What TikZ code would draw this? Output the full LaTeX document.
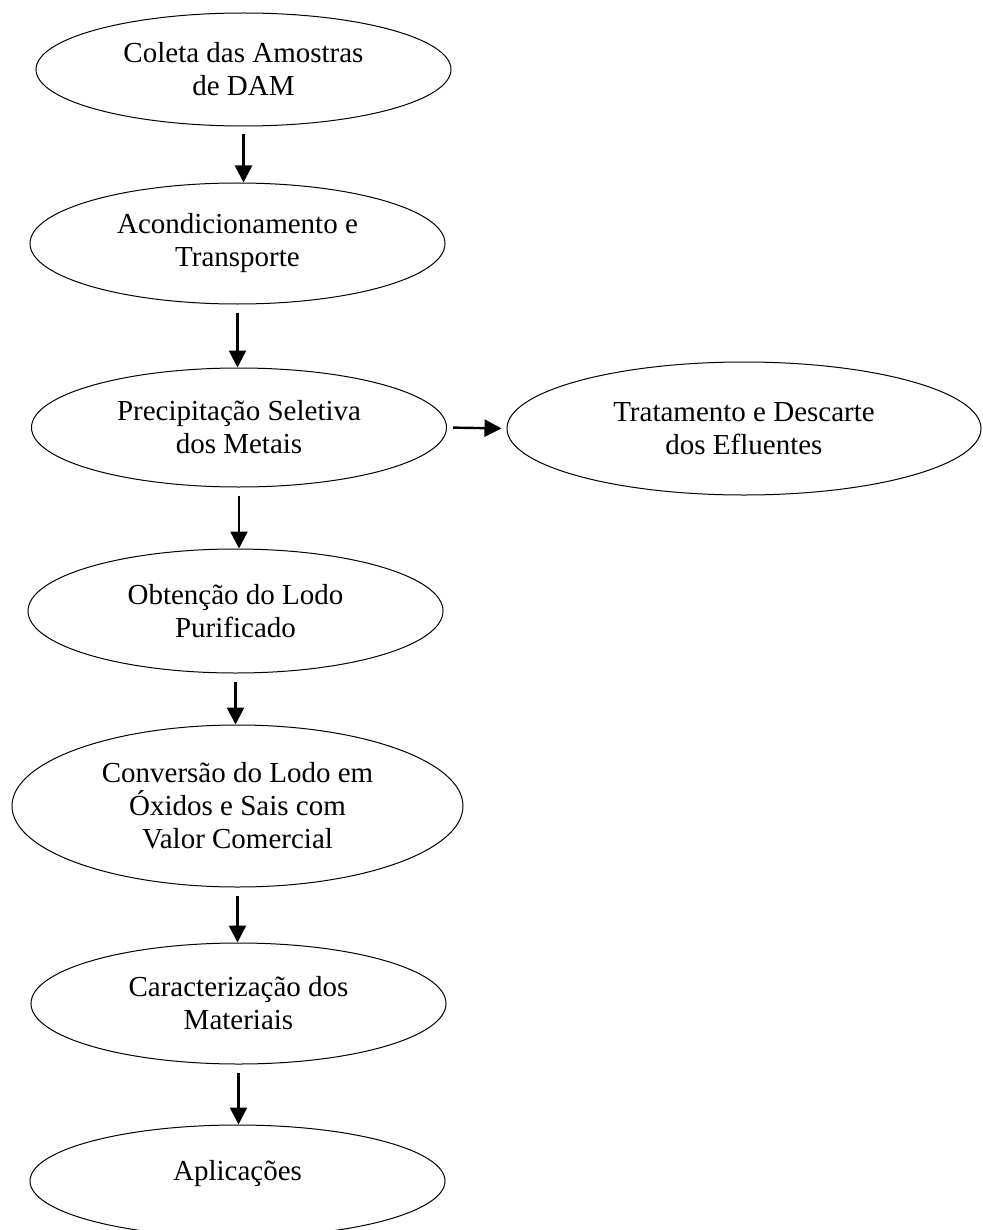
\documentclass[tikz,border=0pt]{standalone}
\usepackage{fontspec}
\setmainfont{Liberation Serif}
\usepackage{tikz}
\usetikzlibrary{shapes.geometric}
\usetikzlibrary{arrows.meta}

\tikzset{
  etapa/.style={draw,
    ellipse,
    line width=0.5pt,
    inner sep=0pt,
    align=center,
    font=\fontsize{14.5}{16.5}\selectfont,
    minimum width=207.5pt},
  seta/.style={line width=1.2pt,
    -{Triangle[length=8.5pt,width=8.5pt]},
    shorten <=4pt}
}

\begin{document}
\begin{tikzpicture}[x=0.5pt,y=-0.5pt]
      \path[use as bounding box, clip] (0,0) rectangle (982,1230);
      \node[etapa, minimum height=56.5pt] (coleta) at (243.5,69.5)
        {Coleta das Amostras\\de DAM};
      \node[etapa, minimum height=60.5pt] (acond) at (237.5,243.5)
        {Acondicionamento e\\Transporte};
      \node[etapa, minimum height=59.5pt] (precip) at (239,427.5)
        {Precipitação Seletiva\\dos Metais};
      \node[etapa,
        minimum width=237pt,
        minimum height=66.5pt] (descarte) at (744,428.5)
        {Tratamento e Descarte\\dos Efluentes};
      \node[etapa, minimum height=62pt] (lodo) at (235.5,611)
        {Obtenção do Lodo\\Purificado};
      \node[etapa,
        minimum width=225.5pt,
        minimum height=81pt] (conv) at (237.5,806)
        {Conversão do Lodo em\\Óxidos e Sais com\\Valor Comercial};
      \node[etapa, minimum height=60.5pt] (carac) at (238.5,1003.5)
        {Caracterização dos\\Materiais};
      \node[etapa, minimum height=56pt] (aplic) at (237.5,1181)
        {Aplicações\\[-6pt]};
      % setas
      \foreach \a/\b in {coleta/acond,acond/precip,precip/lodo,lodo/conv,conv/carac,carac/aplic}
        \draw[seta] (\a.south) -- (\a.south |- \b.north);
      \draw[seta, shorten <=3pt, shorten >=2.5pt] (precip.east) -- (descarte.west);
    \end{tikzpicture}
\end{document}
